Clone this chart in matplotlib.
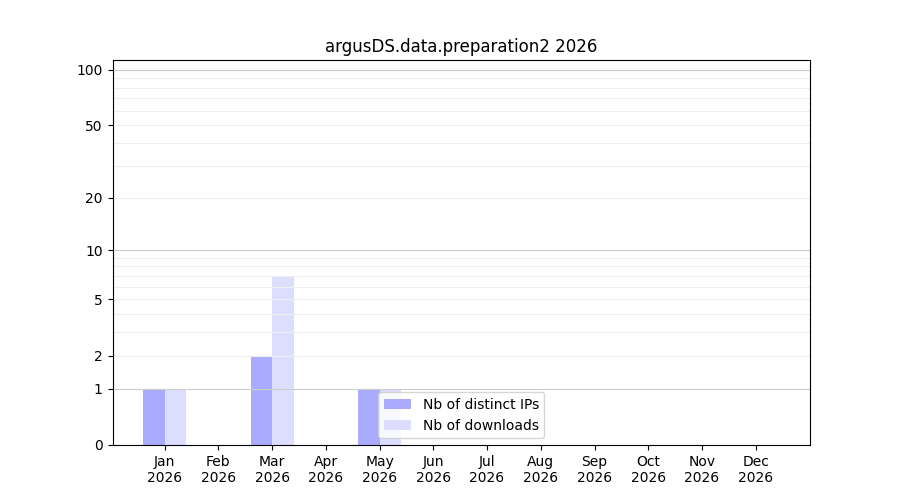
import numpy as np
import matplotlib
matplotlib.use('Agg')
import matplotlib.pyplot as plt

# Monthly stats
months = ['Jan\n2026', 'Feb\n2026', 'Mar\n2026', 'Apr\n2026', 'May\n2026', 'Jun\n2026',
          'Jul\n2026', 'Aug\n2026', 'Sep\n2026', 'Oct\n2026', 'Nov\n2026', 'Dec\n2026']
distinct_ips = [1, 0, 2, 0, 1, 0, 0, 0, 0, 0, 0, 0]
downloads = [1, 0, 7, 0, 1, 0, 0, 0, 0, 0, 0, 0]
ytick_values = [0, 1, 2, 5, 10, 20, 50, 100]


def fwd(y):
    return np.log10(1 + np.clip(y, 0, None))


def inv(y):
    return 10 ** y - 1


fig, ax = plt.subplots(figsize=(9, 5), dpi=100)
x = np.arange(len(months))
w = 0.4

ax.bar(x - w / 2, distinct_ips, width=w, color='#aaaaff', label='Nb of distinct IPs', zorder=1)
ax.bar(x + w / 2, downloads, width=w, color='#ddddff', label='Nb of downloads', zorder=1)

ax.set_yscale('function', functions=(fwd, inv))
ax.set_ylim(0, 113)
ax.set_xlim(-0.97, 12.01)

# log-style grid: decades darker, subdivisions lighter
for decade in [1, 10]:
    for k in range(2, 10):
        ax.axhline(decade * k, color='#eeeeee', lw=0.8, zorder=1.5)
for v in [1, 10, 100]:
    ax.axhline(v, color='#cccccc', lw=0.8, zorder=1.5)

ax.set_yticks(ytick_values)
ax.set_yticklabels([str(v) for v in ytick_values])
ax.yaxis.set_minor_locator(matplotlib.ticker.NullLocator())
ax.set_xticks(x)
ax.set_xticklabels(months)

ax.set_title('argusDS.data.preparation2 2026')
ax.legend(loc='lower center')

plt.savefig('out.png', dpi=100)
